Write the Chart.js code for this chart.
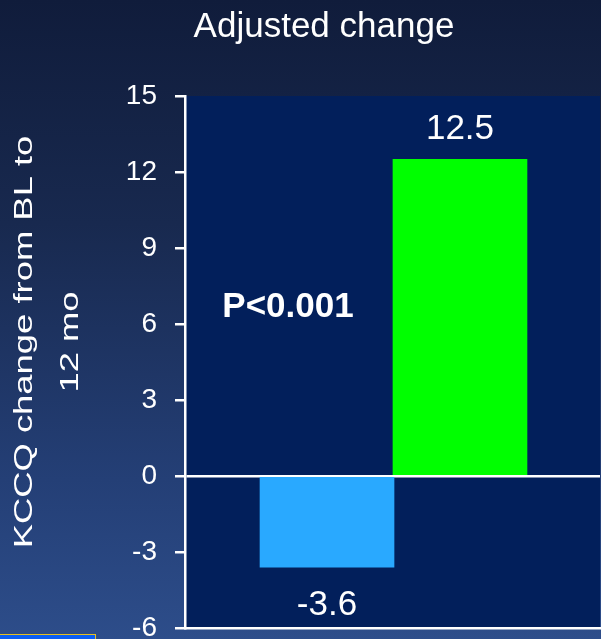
<!DOCTYPE html>
<html>
<head>
<meta charset="utf-8">
<script src="https://cdn.jsdelivr.net/npm/chart.js@4"></script>
<style>
  html, body { margin: 0; padding: 0; width: 601px; height: 639px; overflow: hidden; }
  body { background: linear-gradient(180deg, #101c3b 0%, #18294f 35%, #243f76 75%, #2d4d8a 100%); position: relative; }
  #wrap { position: absolute; left: 0; top: 0; width: 601px; height: 639px; }
  #tag { position: absolute; left: -2px; top: 634px; width: 98px; height: 12px; background: #0b5ef2; border: 1px solid #e6c020; box-sizing: border-box; }
</style>
</head>
<body>
<div id="wrap"><canvas id="chart"></canvas></div>
<div id="tag"></div>
<script>
// KCCQ adjusted change from baseline to 12 months, by group
const categories = ['Control', 'Intervention'];
const adjustedChange = [-3.6, 12.5];
const yTicks = [-6, -3, 0, 3, 6, 9, 12, 15];
const titleText = 'Adjusted change';
const yTitleLines = ['KCCQ change from BL to', '12 mo'];
const pValueText = 'P<0.001';

const FONT = "'Liberation Sans', Arial, sans-serif";
Chart.defaults.font.family = FONT;
Chart.defaults.color = '#ffffff';

// Dark plot panel behind the bars
const panelPlugin = {
  id: 'panel',
  beforeDraw(chart) {
    const { ctx, chartArea: a } = chart;
    ctx.save();
    ctx.fillStyle = '#021f5b';
    ctx.fillRect(a.left, a.top, a.right - a.left, a.bottom - a.top);
    ctx.restore();
  }
};

// Title, axis title, p-value and bar value labels
const textPlugin = {
  id: 'texts',
  afterDraw(chart) {
    const { ctx } = chart;
    ctx.save();
    ctx.fillStyle = '#ffffff';

    // heading
    ctx.font = '35px ' + FONT;
    ctx.textAlign = 'center';
    ctx.textBaseline = 'alphabetic';
    ctx.fillText(titleText, 324, 37);

    // rotated y-axis title, two lines
    const baselines = [32, 78];
    ctx.font = '26px ' + FONT;
    yTitleLines.forEach((line, i) => {
      ctx.save();
      ctx.translate(baselines[i], 342);
      ctx.rotate(-Math.PI / 2);
      ctx.scale(1.4, 1);
      ctx.fillText(line, 0, 0);
      ctx.restore();
    });

    // significance
    ctx.font = 'bold 35px ' + FONT;
    ctx.fillText(pValueText, 288, 317);

    // value labels from the bar data
    ctx.font = '35px ' + FONT;
    const meta = chart.getDatasetMeta(0);
    meta.data.forEach((bar, i) => {
      const v = adjustedChange[i];
      const y = v >= 0 ? bar.y - 20 : bar.y + 48;
      ctx.fillText(v.toFixed(1), bar.x, y);
    });
    ctx.restore();
  }
};

new Chart(document.getElementById('chart'), {
  type: 'bar',
  data: {
    labels: categories,
    datasets: [{
      data: categories.map((c, i) => ({ x: i + 1, y: adjustedChange[i] })),
      backgroundColor: ['#29a9ff', '#00ff00'],
      borderWidth: 0,
      barThickness: 134
    }]
  },
  options: {
    responsive: true,
    maintainAspectRatio: false,
    animation: false,
    layout: { padding: { top: 96, right: 1, bottom: 11, left: 0 } },
    plugins: { legend: { display: false }, tooltip: { enabled: false } },
    scales: {
      x: {
        type: 'linear',
        min: -0.068,
        max: 3.053,
        offset: false,
        afterFit(scale) { scale.height = 0; },
        ticks: { display: false },
        grid: { display: false, drawTicks: false, offset: false },
        border: { display: true, color: '#ffffff', width: 2.5 }
      },
      y: {
        min: yTicks[0],
        max: yTicks[yTicks.length - 1],
        z: 1,
        afterFit(scale) {
          scale.width = 185;
          scale.paddingTop = 0;
          scale.paddingBottom = 0;
        },
        afterBuildTicks(scale) { scale.ticks = yTicks.map(v => ({ value: v })); },
        ticks: {
          color: '#ffffff',
          font: { size: 28, family: FONT },
          padding: 18
        },
        grid: {
          color: ctx => (ctx.tick && ctx.tick.value === 0 ? '#ffffff' : 'rgba(0,0,0,0)'),
          lineWidth: 2.5,
          tickColor: '#ffffff',
          tickLength: 10,
          drawTicks: true
        },
        border: { display: true, color: '#ffffff', width: 2.5 }
      }
    }
  },
  plugins: [panelPlugin, textPlugin]
});
</script>
</body>
</html>
